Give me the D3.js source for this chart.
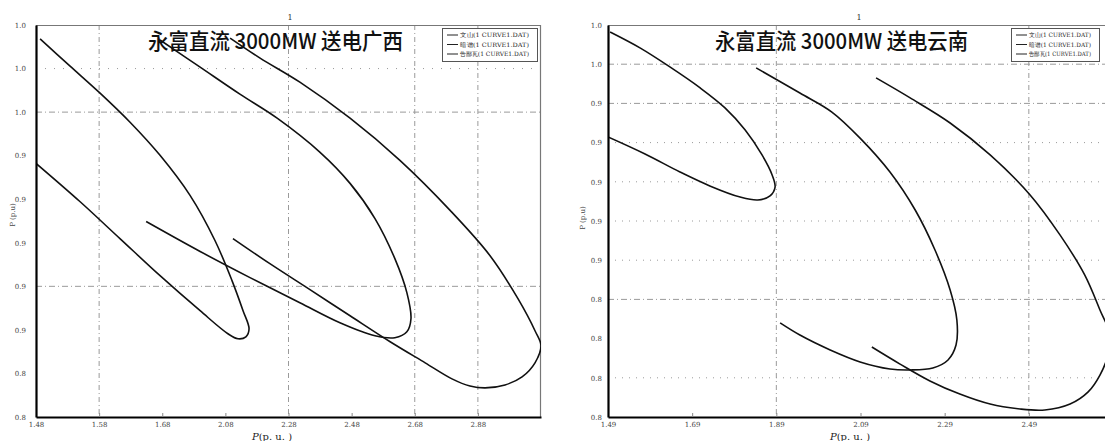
<!DOCTYPE html>
<html>
<head>
<meta charset="utf-8">
<script src="https://cdn.jsdelivr.net/npm/d3@7"></script>
<style>
  body { margin: 0; background: #fff; }
  svg { display: block; }
</style>
</head>
<body>
<script>
// Series names (same three buses in both panels)
const seriesNames = ["文山(1 CURVE1.DAT)", "暗谱(1 CURVE1.DAT)", "告鄙瓦(1 CURVE1.DAT)"];

// Left panel: 送电广西
const gxTitle = "永富直流 3000MW 送电广西";
const gxXTickLabels = ["1.48", "1.58", "1.68", "2.08", "2.28", "2.48", "2.68", "2.88"];
const gxYTickLabels = ["0.8", "0.8", "0.9", "0.9", "0.9", "0.9", "0.9", "1.0", "1.0", "1.0"];
const gxCurve1 = [[1.413,1.017],[1.508,1.0014],[1.603,0.9859],[1.698,0.9692],[1.793,0.9502],[1.888,0.9272],
  [1.967,0.9013],[2.021,0.8783],[2.056,0.861],[2.075,0.8506],[2.065,0.846],[2.04,0.8449],[2.008,0.8478],
  [1.92,0.861],[1.793,0.8811],[1.666,0.9024],[1.539,0.9237],[1.4,0.9456]];
const gxCurve2 = [[1.793,1.0164],[1.92,1.0008],[2.046,0.9853],[2.164,0.9715],[2.3,0.9519],[2.395,0.9341],
  [2.474,0.9139],[2.537,0.8909],[2.575,0.8714],[2.588,0.8564],[2.575,0.8489],[2.537,0.8455],[2.474,0.8466],
  [2.363,0.8541],[2.236,0.8656],[2.078,0.88],[1.92,0.895],[1.749,0.9122]];
const gxCurve3 = [[2.015,1.0175],[2.11,1.006],[2.236,0.9922],[2.395,0.9715],[2.553,0.9473],[2.712,0.9186],
  [2.838,0.8927],[2.927,0.8679],[2.981,0.8495],[3.0,0.8409],[2.981,0.8311],[2.94,0.823],[2.886,0.8184],
  [2.823,0.8167],[2.775,0.8178],[2.718,0.8219],[2.633,0.8311],[2.522,0.8432],[2.395,0.8581],[2.268,0.8731],
  [2.141,0.888],[2.024,0.9024]];

// Right panel: 送电云南
const ynTitle = "永富直流 3000MW 送电云南";
const ynXTickLabels = ["1.49", "1.69", "1.89", "2.09", "2.29", "2.49"];
const ynYTickLabels = ["0.8", "0.8", "0.8", "0.8", "0.9", "0.9", "0.9", "0.9", "0.9", "1.0", "1.0"];
const ynCurve1 = [[1.495,0.9964],[1.566,0.9883],[1.637,0.9786],[1.709,0.9679],[1.768,0.9577],[1.816,0.9464],
  [1.856,0.9337],[1.88,0.9235],[1.887,0.9173],[1.875,0.9128],[1.846,0.9107],[1.804,0.9122],[1.732,0.9179],
  [1.661,0.925],[1.578,0.9342],[1.49,0.9429]];
const ynCurve2 = [[1.842,0.9781],[1.946,0.9653],[2.022,0.9556],[2.089,0.9423],[2.16,0.925],[2.22,0.9056],
  [2.267,0.8852],[2.303,0.8648],[2.319,0.8495],[2.317,0.8367],[2.298,0.8291],[2.262,0.825],[2.208,0.824],
  [2.16,0.8245],[2.089,0.8281],[2.018,0.8342],[1.946,0.8418],[1.899,0.848]];
const ynCurve3 = [[2.127,0.973],[2.208,0.9628],[2.303,0.95],[2.398,0.9337],[2.493,0.9133],[2.564,0.8929],
  [2.623,0.8724],[2.659,0.8546],[2.683,0.8418],[2.678,0.8316],[2.659,0.8214],[2.631,0.8128],[2.588,0.8066],
  [2.528,0.8036],[2.469,0.8041],[2.398,0.8066],[2.326,0.8117],[2.255,0.8184],[2.184,0.827],[2.117,0.8357]];

const width = 1105;
const height = 441;

const svg = d3.select("body").append("svg")
  .attr("width", width)
  .attr("height", height)
  .attr("viewBox", [0, 0, width, height]);

function drawPanel(cfg) {
  const xScale = d3.scaleLinear().domain(cfg.xDomain).range([cfg.left, cfg.right]);
  const yScale = d3.scaleLinear().domain(cfg.yDomain).range([417, 25]);
  const xTicks = cfg.xLabels.map((d, i) => cfg.xDomain[0] + cfg.xStep * i);
  const yTicks = cfg.yLabels.map((d, i) => cfg.yDomain[0] + cfg.yStep * i);

  const g = svg.append("g");

  g.append("clipPath").attr("id", cfg.id)
    .append("rect")
    .attr("x", cfg.left).attr("y", 25)
    .attr("width", cfg.right - cfg.left).attr("height", 392);

  // grid lines (the scan only shows some of them)
  g.append("g").selectAll("line")
    .data(cfg.hGrid)
    .join("line")
    .attr("x1", cfg.left).attr("x2", cfg.right)
    .attr("y1", d => yScale(yTicks[d[0]])).attr("y2", d => yScale(yTicks[d[0]]))
    .attr("stroke", "#9a9a9a")
    .attr("stroke-width", 1)
    .attr("stroke-dasharray", d => d[1]);

  g.append("g").selectAll("line")
    .data(cfg.vGrid)
    .join("line")
    .attr("x1", d => xScale(xTicks[d])).attr("x2", d => xScale(xTicks[d]))
    .attr("y1", 25).attr("y2", 417)
    .attr("stroke", "#9a9a9a")
    .attr("stroke-width", 1)
    .attr("stroke-dasharray", "5,3,1,3");

  // frame top + right
  g.append("path")
    .attr("d", `M${cfg.left},25.5H${cfg.right - 0.5}V417`)
    .attr("fill", "none")
    .attr("stroke", "#777")
    .attr("stroke-width", 1.2);

  // curves
  const line = d3.line()
    .x(d => xScale(d[0]))
    .y(d => yScale(d[1]))
    .curve(d3.curveCatmullRom.alpha(0.5));

  g.append("g")
    .attr("clip-path", `url(#${cfg.id})`)
    .selectAll("path")
    .data(cfg.curves)
    .join("path")
    .attr("d", line)
    .attr("fill", "none")
    .attr("stroke", "#111")
    .attr("stroke-width", 1.6);

  // axes
  const xAxis = d3.axisBottom(xScale)
    .tickValues(xTicks)
    .tickFormat((d, i) => cfg.xLabels[i])
    .tickSizeInner(-4)
    .tickSizeOuter(0)
    .tickPadding(5);
  const yAxis = d3.axisLeft(yScale)
    .tickValues(yTicks)
    .tickFormat((d, i) => cfg.yLabels[i])
    .tickSize(0)
    .tickPadding(cfg.yPad);

  const gx = g.append("g")
    .attr("transform", "translate(0,417)")
    .call(xAxis);
  const gy = g.append("g")
    .attr("transform", `translate(${cfg.left},0)`)
    .call(yAxis);

  [gx, gy].forEach(a => {
    a.select(".domain").attr("stroke", "#000").attr("stroke-width", 2.2);
    a.selectAll(".tick line").attr("stroke", "#888");
    a.selectAll(".tick text")
      .attr("font-family", "DejaVu Serif, serif")
      .attr("font-size", 7)
      .attr("fill", "#444");
  });

  // axis titles
  g.append("text")
    .attr("x", cfg.xTitleX).attr("y", 440)
    .attr("text-anchor", "middle")
    .attr("font-family", "DejaVu Serif, serif")
    .attr("font-size", 10)
    .attr("fill", "#222")
    .html('<tspan font-style="italic">P</tspan>(p. u. )');

  g.append("text")
    .attr("transform", `translate(${cfg.yTitleX},${cfg.yTitleY}) rotate(-90)`)
    .attr("text-anchor", "middle")
    .attr("font-family", "DejaVu Serif, serif")
    .attr("font-size", 7)
    .attr("fill", "#444")
    .text("P (p.u)");

  // figure number
  g.append("text")
    .attr("x", cfg.numX).attr("y", 20)
    .attr("text-anchor", "middle")
    .attr("font-family", "DejaVu Serif, serif")
    .attr("font-size", 8)
    .attr("fill", "#333")
    .text("1");

  // big title
  g.append("text")
    .attr("x", cfg.titleX).attr("y", 49)
    .attr("font-family", "Noto Sans CJK SC, sans-serif")
    .attr("font-size", 22)
    .attr("font-weight", 500)
    .attr("fill", "#111")
    .attr("textLength", cfg.titleW)
    .attr("lengthAdjust", "spacingAndGlyphs")
    .text(cfg.title);

  // legend
  const lg = g.append("g").attr("transform", `translate(${cfg.legX},28)`);
  lg.append("rect")
    .attr("x", 0.5).attr("y", 0.5)
    .attr("width", cfg.legW).attr("height", 33)
    .attr("fill", "#fff")
    .attr("stroke", "#555")
    .attr("stroke-width", 1);
  seriesNames.forEach((name, i) => {
    const yy = 7 + i * 9.5;
    lg.append("line")
      .attr("x1", 5).attr("x2", 16)
      .attr("y1", yy).attr("y2", yy)
      .attr("stroke", "#222").attr("stroke-width", 1);
    lg.append("text")
      .attr("x", 18).attr("y", yy + 2.3)
      .attr("font-family", "DejaVu Serif, serif")
      .attr("font-size", 6)
      .attr("fill", "#222")
      .attr("textLength", cfg.legW - 26)
      .attr("lengthAdjust", "spacingAndGlyphs")
      .text(name);
  });
}

drawPanel({
  id: "clipL",
  left: 36, right: 541,
  xDomain: [1.4, 3.0], xStep: 0.2,
  yDomain: [0.8, 1.025], yStep: 0.025,
  xLabels: gxXTickLabels, yLabels: gxYTickLabels,
  hGrid: [[3, "6,3,1,3"], [7, "6,3,1,3"], [8, "1,8"]],
  vGrid: [1, 4, 6, 7],
  curves: [gxCurve1, gxCurve2, gxCurve3],
  yPad: 10,
  xTitleX: 272, yTitleX: 15, yTitleY: 215,
  numX: 290,
  title: gxTitle, titleX: 148, titleW: 255,
  legX: 442, legW: 95
});

drawPanel({
  id: "clipR",
  left: 608, right: 1113,
  xDomain: [1.49, 2.69], xStep: 0.2,
  yDomain: [0.8, 1.0], yStep: 0.02,
  xLabels: ynXTickLabels, yLabels: ynYTickLabels,
  hGrid: [[1, "1,6"], [3, "6,3,1,3"], [4, "1,6"], [5, "1,6"], [6, "1,6"], [7, "1,6"], [8, "6,3,1,3"], [9, "6,3,1,3"]],
  vGrid: [2, 5],
  curves: [ynCurve1, ynCurve2, ynCurve3],
  yPad: 6,
  xTitleX: 850, yTitleX: 585, yTitleY: 218,
  numX: 859,
  title: ynTitle, titleX: 715, titleW: 253,
  legX: 1011, legW: 88
});
</script>
</body>
</html>
